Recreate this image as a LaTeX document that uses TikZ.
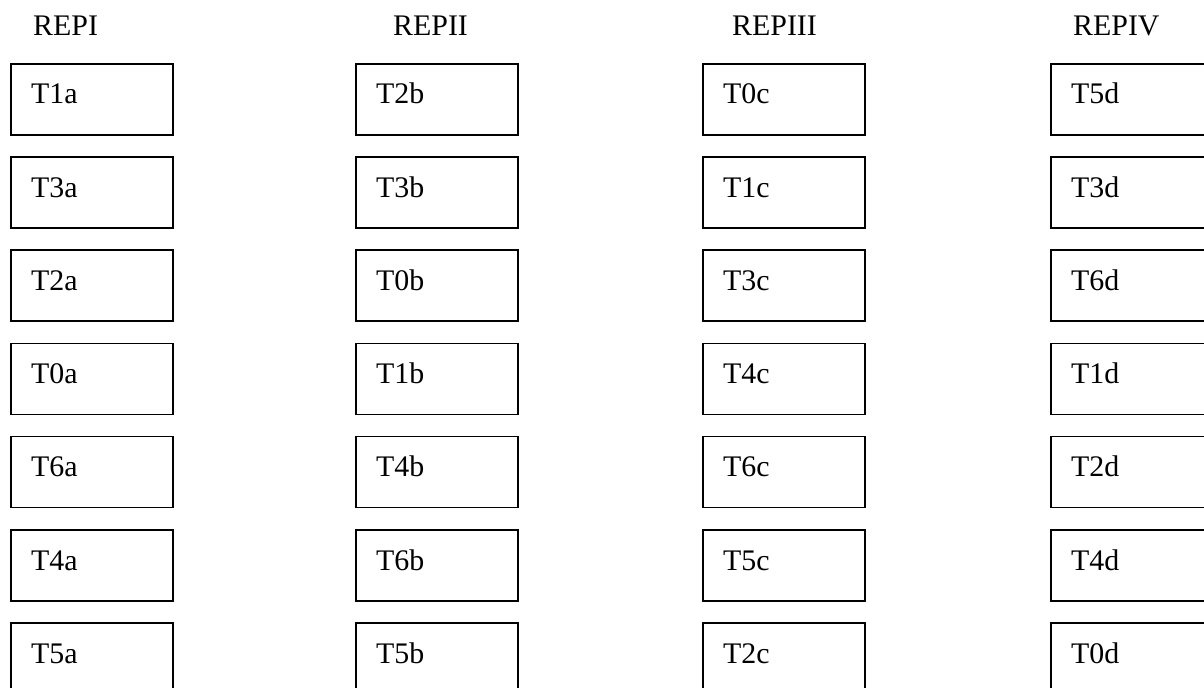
\documentclass[tikz,border=0pt]{standalone}
\usepackage{fontspec}
\setmainfont{Liberation Serif}
\usetikzlibrary{calc}
\begin{document}
\begin{tikzpicture}[x=1bp,y=-1bp,
  cell/.style={draw,line width=1.6bp,rectangle,minimum width=162bp,minimum height=71bp,inner sep=0pt,anchor=north west},
  lab/.style={font=\fontsize{30}{36}\selectfont,anchor=base west,inner sep=0pt}]
\useasboundingbox (0,0) rectangle (1204,688);
\clip (0,0) rectangle (1204,688);
\node[lab] (hA) at (33,36) {REPI};
\node[lab] (hB) at (393,36) {REPII};
\node[lab] (hC) at (732,36) {REPIII};
\node[lab] (hD) at (1073,36) {REPIV};
\foreach \c/\x/\lst in {a/10/{1,3,2,0,6,4,5}, b/355/{2,3,0,1,4,6,5}, c/702/{0,1,3,4,6,5,2}, d/1050/{5,3,6,1,2,4,0}}{
  \foreach \n [count=\r from 0] in \lst {
    \node[cell] (box\c\r) at (\x,{63+\r*93.2}) {};
    \node[lab] (txt\c\r) at ($(box\c\r.north west)+(21,41)$) {T\n\c};
  }
}
\end{tikzpicture}
\end{document}
